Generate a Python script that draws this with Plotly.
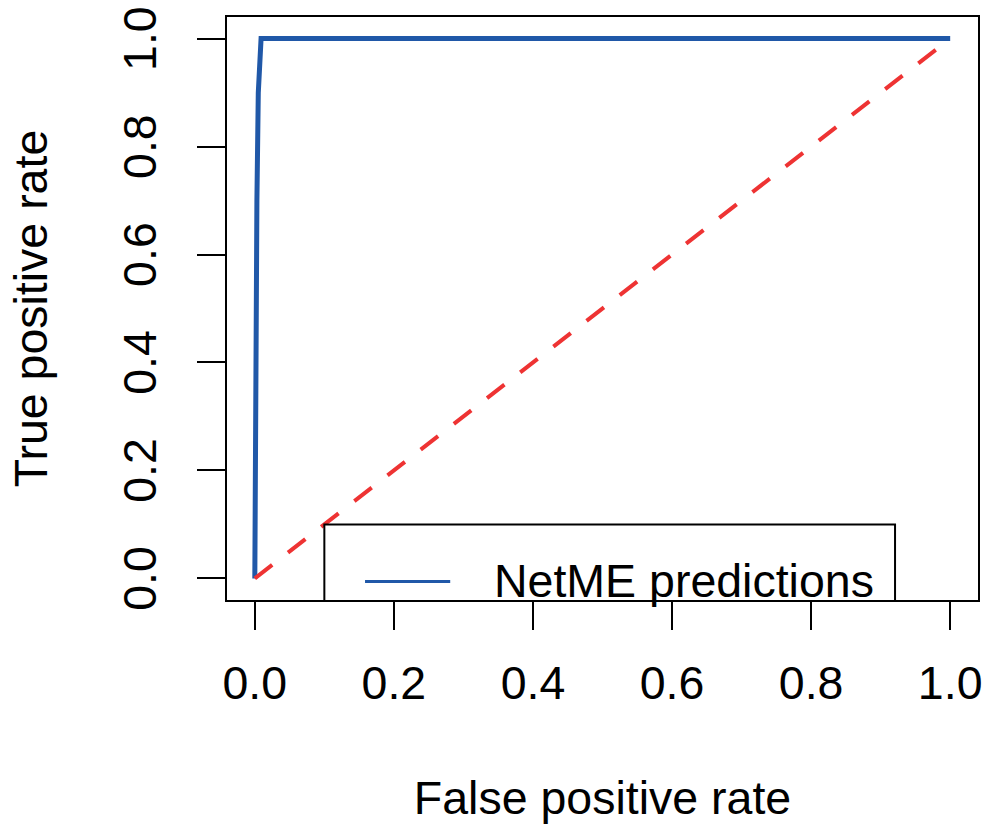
import plotly.graph_objects as go

# ROC curve data
fpr = [0.0, 0.001, 0.003, 0.005, 0.007, 0.009, 1.0]
tpr = [0.0, 0.30, 0.70, 0.90, 0.95, 1.0, 1.0]
diag_x = [0.0, 1.0]
diag_y = [0.0, 1.0]
tick_vals = [0.0, 0.2, 0.4, 0.6, 0.8, 1.0]
tick_text = ["0.0", "0.2", "0.4", "0.6", "0.8", "1.0"]
legend_label = "NetME predictions"

BLUE = "#2058A8"
RED = "#EE3333"
FONT = "Liberation Sans, Arial, sans-serif"
FS = 46.5

fig = go.Figure()
fig.add_trace(go.Scatter(x=fpr, y=tpr, mode="lines",
                         line=dict(color=BLUE, width=5), showlegend=False))
fig.add_trace(go.Scatter(x=diag_x, y=diag_y, mode="lines",
                         line=dict(color=RED, width=4, dash="22px,20px"), showlegend=False))

# legend box (R-style), placed at (0.1, 0.1) top-left
fig.add_shape(type="rect", xref="x", yref="y", x0=0.1, x1=0.9207, y0=-0.06, y1=0.1,
              fillcolor="white", line=dict(color="black", width=2), layer="above")
fig.add_shape(type="line", xref="x", yref="y", x0=0.1585, x1=0.281, y0=-0.0056, y1=-0.0056,
              line=dict(color=BLUE, width=3), layer="above")
fig.add_annotation(x=0.3415, y=-0.004, xref="x", yref="y", text=legend_label,
                   showarrow=False, xanchor="left", yanchor="middle",
                   font=dict(family=FONT, size=FS, color="black"))

axis_common = dict(
    tickmode="array", tickvals=tick_vals, ticktext=tick_text,
    ticks="outside", ticklen=28, tickwidth=2, tickcolor="black",
    showline=True, linecolor="black", linewidth=2, mirror=True,
    showgrid=False, zeroline=False,
    tickfont=dict(family=FONT, size=FS, color="black"),
    ticklabeloverflow="allow",
    automargin=False,
    range=[-0.04, 1.04],
)

fig.update_xaxes(**axis_common, ticklabelstandoff=13,
                 title=dict(text="False positive rate", font=dict(family=FONT, size=FS, color="black"),
                            standoff=74))
fig.update_yaxes(**axis_common, tickangle=-90, ticklabelstandoff=22, ticklabelshift=7,
                 title=dict(text="True positive rate", font=dict(family=FONT, size=FS, color="black"),
                            standoff=52))

fig.update_layout(
    width=986, height=824,
    margin=dict(l=227, r=8, t=17, b=224),
    plot_bgcolor="white", paper_bgcolor="white",
    showlegend=False,
)

fig.write_html("out.html")
